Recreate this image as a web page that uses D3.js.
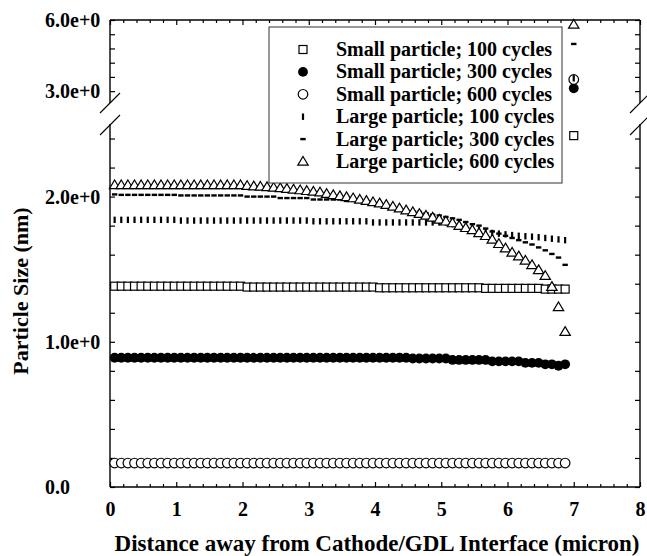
<!DOCTYPE html>
<html>
<head>
<meta charset="utf-8">
<script src="https://cdn.jsdelivr.net/npm/d3@7"></script>
<style>
  body { margin: 0; background: #fff; }
  text { font-family: "Liberation Serif", "Times New Roman", serif; font-weight: bold; fill: #000; }
</style>
</head>
<body>
<svg id="chart" width="647" height="556"></svg>
<script>
// distance from the cathode/GDL interface (micron)
var distance = [0.07,0.17,0.27,0.37,0.47,0.57,0.67,0.77,0.87,0.97,
  1.07,1.17,1.27,1.37,1.47,1.57,1.67,1.77,1.87,1.97,
  2.07,2.17,2.27,2.37,2.47,2.57,2.67,2.77,2.87,2.97,
  3.07,3.17,3.27,3.37,3.47,3.57,3.67,3.77,3.87,3.97,
  4.07,4.17,4.27,4.37,4.47,4.57,4.67,4.77,4.87,4.97,
  5.07,5.17,5.27,5.37,5.47,5.57,5.67,5.77,5.87,5.97,
  6.07,6.17,6.27,6.37,6.47,6.57,6.67,6.77,6.87,7.00];

var small100 = [1.383,1.383,1.383,1.383,1.383,1.383,1.383,1.383,1.383,1.383,
  1.383,1.383,1.383,1.383,1.383,1.383,1.383,1.383,1.383,1.383,
  1.377,1.377,1.377,1.377,1.377,1.377,1.377,1.377,1.377,1.377,
  1.377,1.377,1.377,1.377,1.377,1.377,1.377,1.377,1.377,1.377,
  1.372,1.372,1.372,1.372,1.372,1.372,1.372,1.372,1.372,1.372,
  1.372,1.372,1.372,1.372,1.372,1.372,1.368,1.368,1.368,1.368,
  1.368,1.368,1.368,1.368,1.368,1.363,1.363,1.363,1.363,2.42];

var small300 = [0.89,0.89,0.89,0.89,0.89,0.89,0.89,0.89,0.89,0.89,
  0.89,0.89,0.89,0.89,0.89,0.89,0.89,0.89,0.89,0.89,
  0.89,0.89,0.89,0.89,0.89,0.89,0.89,0.89,0.89,0.89,
  0.89,0.89,0.89,0.89,0.89,0.89,0.89,0.89,0.89,0.89,
  0.89,0.89,0.89,0.89,0.89,0.885,0.885,0.885,0.885,0.885,
  0.885,0.875,0.875,0.875,0.875,0.875,0.875,0.865,0.865,0.865,
  0.865,0.865,0.855,0.855,0.855,0.845,0.845,0.835,0.845,3.12];

var small600 = [0.165,0.165,0.165,0.165,0.165,0.165,0.165,0.165,0.165,0.165,
  0.165,0.165,0.165,0.165,0.165,0.165,0.165,0.165,0.165,0.165,
  0.165,0.165,0.165,0.165,0.165,0.165,0.165,0.165,0.165,0.165,
  0.165,0.165,0.165,0.165,0.165,0.165,0.165,0.165,0.165,0.165,
  0.165,0.165,0.165,0.165,0.165,0.165,0.165,0.165,0.165,0.165,
  0.165,0.165,0.165,0.165,0.165,0.165,0.165,0.165,0.165,0.165,
  0.165,0.165,0.165,0.165,0.165,0.165,0.165,0.165,0.165,3.49];

var large100 = [1.84,1.84,1.84,1.84,1.84,1.84,1.84,1.84,1.84,1.84,
  1.835,1.835,1.835,1.835,1.835,1.835,1.835,1.835,1.835,1.835,
  1.835,1.835,1.835,1.835,1.835,1.835,1.835,1.835,1.835,1.835,
  1.83,1.83,1.83,1.83,1.83,1.83,1.83,1.83,1.83,1.822,
  1.822,1.822,1.822,1.822,1.822,1.822,1.822,1.822,1.822,1.822,
  1.822,1.81,1.80,1.79,1.78,1.77,1.76,1.75,1.745,1.74,
  1.735,1.73,1.727,1.724,1.72,1.715,1.71,1.705,1.70,3.54];

var large300 = [2.015,2.012,2.012,2.012,2.012,2.012,2.012,2.012,2.012,2.012,
  2.008,2.008,2.008,2.008,2.008,2.008,2.008,2.008,2.008,2.008,
  2.0,2.0,2.0,2.0,2.0,1.99,1.99,1.99,1.99,1.99,
  1.98,1.98,1.98,1.98,1.98,1.97,1.97,1.97,1.97,1.955,
  1.95,1.94,1.93,1.92,1.91,1.90,1.895,1.885,1.875,1.87,
  1.86,1.85,1.84,1.825,1.81,1.80,1.78,1.76,1.745,1.73,
  1.715,1.70,1.685,1.67,1.65,1.63,1.605,1.58,1.53,4.99];

var large600 = [2.08,2.08,2.08,2.08,2.08,2.08,2.08,2.08,2.08,2.08,
  2.08,2.08,2.08,2.08,2.08,2.08,2.08,2.08,2.08,2.08,
  2.075,2.072,2.07,2.067,2.063,2.06,2.055,2.05,2.045,2.04,
  2.035,2.03,2.02,2.012,2.005,1.998,1.99,1.98,1.972,1.963,
  1.955,1.945,1.932,1.92,1.907,1.895,1.882,1.87,1.857,1.843,
  1.83,1.818,1.80,1.785,1.77,1.75,1.73,1.705,1.675,1.645,
  1.615,1.59,1.56,1.53,1.495,1.455,1.38,1.24,1.07,5.81];

var seriesNames = ["Small particle; 100 cycles", "Small particle; 300 cycles", "Small particle; 600 cycles",
  "Large particle; 100 cycles", "Large particle; 300 cycles", "Large particle; 600 cycles"];
var seriesValues = [small100, small300, small600, large100, large300, large600];
var seriesMarkers = ["square", "disc", "circle", "tick", "dash", "triangle"];

var xTicks = [0, 1, 2, 3, 4, 5, 6, 7, 8];
var xMinorTicks = [0.2,0.4,0.6,0.8,1.2,1.4,1.6,1.8,2.2,2.4,2.6,2.8,3.2,3.4,3.6,3.8,
  4.2,4.4,4.6,4.8,5.2,5.4,5.6,5.8,6.2,6.4,6.6,6.8,7.2,7.4,7.6,7.8];
var yLowTicks = [0, 0.2, 0.4, 0.6, 0.8, 1.0, 1.2, 1.4, 1.6, 1.8, 2.0, 2.2, 2.4];
var yHighTicks = [3.0, 3.6, 4.2, 4.8, 5.4, 6.0];
var yLabelValues = [0, 1, 2, 3, 6];
var yLabelTexts = ["0.0", "1.0e+0", "2.0e+0", "3.0e+0", "6.0e+0"];

var svg = d3.select("#chart");

var plotLeft = 110, plotRight = 640, plotTop = 20, plotBottom = 487;
var breakLow = 124, breakHigh = 103;   // pixel ends of the two axis pieces

var x = d3.scaleLinear().domain([0, 8]).range([plotLeft, plotRight]);
var yLow = d3.scaleLinear().domain([0, 2.5]).range([plotBottom, breakLow]);
var yHigh = d3.scaleLinear().domain([2.5, 6]).range([breakHigh, plotTop]);
function y(v) { return v <= 2.5 ? yLow(v) : yHigh(v); }

// x axes (bottom + top), ticks point inward
function noLabel() { return ""; }
svg.append("g").attr("transform", "translate(0," + plotBottom + ")")
  .call(d3.axisBottom(x).tickValues(xTicks).tickSize(-5).tickPadding(15).tickFormat(d3.format("d")))
  .call(function(g) {
    g.select(".domain").remove();
    g.selectAll("text").attr("font-size", 20).style("font-family", "Liberation Serif").style("font-weight", "bold");
  });
svg.append("g").attr("transform", "translate(0," + plotBottom + ")")
  .call(d3.axisBottom(x).tickValues(xMinorTicks).tickSize(-3).tickFormat(noLabel))
  .call(function(g) { g.select(".domain").remove(); });
svg.append("g").attr("transform", "translate(0," + plotTop + ")")
  .call(d3.axisTop(x).tickValues(xTicks).tickSize(-5).tickFormat(noLabel))
  .call(function(g) { g.select(".domain").remove(); });
svg.append("g").attr("transform", "translate(0," + plotTop + ")")
  .call(d3.axisTop(x).tickValues(xMinorTicks).tickSize(-3).tickFormat(noLabel))
  .call(function(g) { g.select(".domain").remove(); });

// y axes (left + right), lower and upper pieces
[[yLow, yLowTicks], [yHigh, yHighTicks]].forEach(function(p) {
  svg.append("g").attr("transform", "translate(" + plotLeft + ",0)")
    .call(d3.axisLeft(p[0]).tickValues(p[1]).tickSize(-5).tickFormat(noLabel))
    .call(function(g) { g.select(".domain").remove(); });
  svg.append("g").attr("transform", "translate(" + plotRight + ",0)")
    .call(d3.axisRight(p[0]).tickValues(p[1]).tickSize(-5).tickFormat(noLabel))
    .call(function(g) { g.select(".domain").remove(); });
});
svg.selectAll(".tick line").attr("stroke", "#000").attr("stroke-width", 1.2);

// frame with the broken y axes
var frame = svg.append("g").attr("stroke", "#000").attr("stroke-width", 1.4).attr("fill", "none");
frame.append("line").attr("x1", plotLeft).attr("x2", plotRight).attr("y1", plotBottom).attr("y2", plotBottom);
frame.append("line").attr("x1", plotLeft).attr("x2", plotRight).attr("y1", plotTop).attr("y2", plotTop);
[plotLeft, plotRight].forEach(function(ax) {
  frame.append("line").attr("x1", ax).attr("x2", ax).attr("y1", plotTop).attr("y2", breakHigh);
  frame.append("line").attr("x1", ax).attr("x2", ax).attr("y1", breakLow).attr("y2", plotBottom);
  frame.append("line").attr("x1", ax - 10).attr("y1", breakHigh + 10).attr("x2", ax + 10).attr("y2", breakHigh - 10)
    .attr("stroke-width", 1.1);
  frame.append("line").attr("x1", ax - 10).attr("y1", breakLow + 11).attr("x2", ax + 10).attr("y2", breakLow - 9)
    .attr("stroke-width", 1.1);
});

// y tick labels, left aligned
svg.append("g").selectAll("text").data(yLabelValues).join("text")
  .attr("x", 45).attr("y", function(d) { return y(d) + 7; })
  .attr("font-size", 20)
  .text(function(d, i) { return yLabelTexts[i]; });

// markers
function marker(g, type) {
  if (type === "square") {
    g.append("rect").attr("x", -4).attr("y", -4).attr("width", 8).attr("height", 8)
      .attr("fill", "#fff").attr("stroke", "#000").attr("stroke-width", 1.2);
  } else if (type === "disc") {
    g.append("circle").attr("r", 4.9).attr("fill", "#000");
  } else if (type === "circle") {
    g.append("circle").attr("r", 4.8).attr("fill", "#fff").attr("stroke", "#000").attr("stroke-width", 1.2);
  } else if (type === "tick") {
    g.append("rect").attr("x", -1.1).attr("y", -3.2).attr("width", 2.2).attr("height", 6.4).attr("fill", "#000");
  } else if (type === "dash") {
    g.append("rect").attr("x", -2.7).attr("y", -1.2).attr("width", 5.4).attr("height", 2.4).attr("fill", "#000");
  } else if (type === "triangle") {
    g.append("path").attr("d", "M0,-5L5.2,3.7L-5.2,3.7Z")
      .attr("fill", "#fff").attr("stroke", "#000").attr("stroke-width", 1.2);
  }
}

seriesValues.forEach(function(vals, s) {
  var g = svg.append("g").attr("class", "series");
  g.selectAll("g").data(vals).join("g")
    .attr("transform", function(d, i) { return "translate(" + x(distance[i]) + "," + y(d) + ")"; })
    .each(function() { marker(d3.select(this), seriesMarkers[s]); });
});

// legend
var legend = svg.append("g");
legend.append("rect").attr("x", 269).attr("y", 27).attr("width", 293).attr("height", 156)
  .attr("fill", "#fff").attr("stroke", "#333").attr("stroke-width", 1);
seriesNames.forEach(function(name, i) {
  var ly = 49.5 + i * 22.4;
  var mg = legend.append("g").attr("transform", "translate(303," + ly + ")");
  marker(mg, seriesMarkers[i]);
  legend.append("text").attr("x", 336).attr("y", ly + 6.5).attr("font-size", 20).text(name);
});

// axis titles
svg.append("text").attr("x", 377).attr("y", 551).attr("text-anchor", "middle").attr("font-size", 23)
  .text("Distance away from Cathode/GDL Interface (micron)");
svg.append("text").attr("transform", "translate(28,291) rotate(-90)").attr("text-anchor", "middle")
  .attr("font-size", 22).text("Particle Size (nm)");
</script>
</body>
</html>
